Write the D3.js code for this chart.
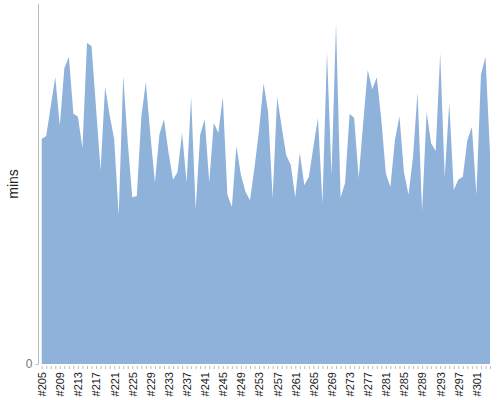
<!DOCTYPE html>
<html><head><meta charset="utf-8">
<script src="https://cdn.jsdelivr.net/npm/d3@7"></script>
<style>body{margin:0;background:#fff}svg{display:block}</style>
</head><body>
<svg id="c" width="500" height="400"></svg>
<script>
const firstBuild = 205;
const builds = d3.range(100).map(i => "#" + (firstBuild + i));
const minutes = [37.5,38.0,43.0,47.8,39.7,49.3,51.2,41.7,41.2,36.0,
53.5,53.0,42.7,32.3,46.2,41.5,37.5,24.8,48.0,37.0,
27.8,28.0,41.2,47.0,38.2,30.3,38.3,40.8,35.3,30.7,
32.0,38.5,30.3,44.5,25.8,38.2,40.8,30.3,40.2,38.5,
44.5,28.2,26.2,36.3,31.5,28.7,27.3,32.8,39.0,46.8,
42.0,27.7,44.5,39.5,34.8,33.2,27.8,35.2,29.8,31.2,
36.2,41.0,26.8,52.0,31.5,56.8,27.7,30.2,41.7,41.0,
31.0,40.2,49.0,45.8,47.8,40.7,31.8,29.5,37.3,41.3,
32.0,28.2,34.5,45.3,25.5,42.0,36.8,35.5,51.8,31.2,
43.5,29.0,30.7,31.2,37.3,39.5,28.2,48.2,51.2,35.2];
const yTicks = [0];
const yLabel = "mins";

const svg = d3.select("#c");
const x = d3.scalePoint().domain(builds).range([41.7, 490]);
const y = d3.scaleLinear().domain([0, 60]).range([364, 4]);

const area = d3.area()
  .x((d, i) => x(builds[i]))
  .y0(y(0))
  .y1(d => y(d));
svg.append("path").datum(minutes).attr("d", area).attr("fill", "#8fb2da");

// y axis
const ya = svg.append("g").attr("transform", "translate(38.5,0)")
  .call(d3.axisLeft(y).tickValues(yTicks).tickSize(3).tickPadding(3));
ya.select(".domain").attr("stroke", "#bbb").attr("d", "M0,4V364");
ya.selectAll(".tick line").attr("stroke", "#bbb");
ya.selectAll("text").attr("fill", "#777").attr("font-family", "Liberation Sans, Arial, sans-serif").attr("font-size", 12);

// x axis
const xa = svg.append("g").attr("transform", "translate(0,366)")
  .call(d3.axisBottom(x).tickSize(3).tickFormat((d, i) => i % 4 === 0 ? d : ""));
xa.select(".domain").remove();
xa.selectAll(".tick line").attr("stroke", "#bbb");
xa.selectAll("text")
  .attr("font-family", "Liberation Sans, Arial, sans-serif").attr("font-size", 11).attr("fill", "#222")
  .attr("transform", "rotate(-90)")
  .attr("text-anchor", "end").attr("dy", "0.35em").attr("x", -6).attr("y", 0);

svg.append("text").text(yLabel)
  .attr("transform", "translate(18,184) rotate(-90)")
  .attr("text-anchor", "middle")
  .attr("font-family", "Liberation Sans, Arial, sans-serif").attr("font-size", 14).attr("fill", "#222");
</script>
</body></html>
